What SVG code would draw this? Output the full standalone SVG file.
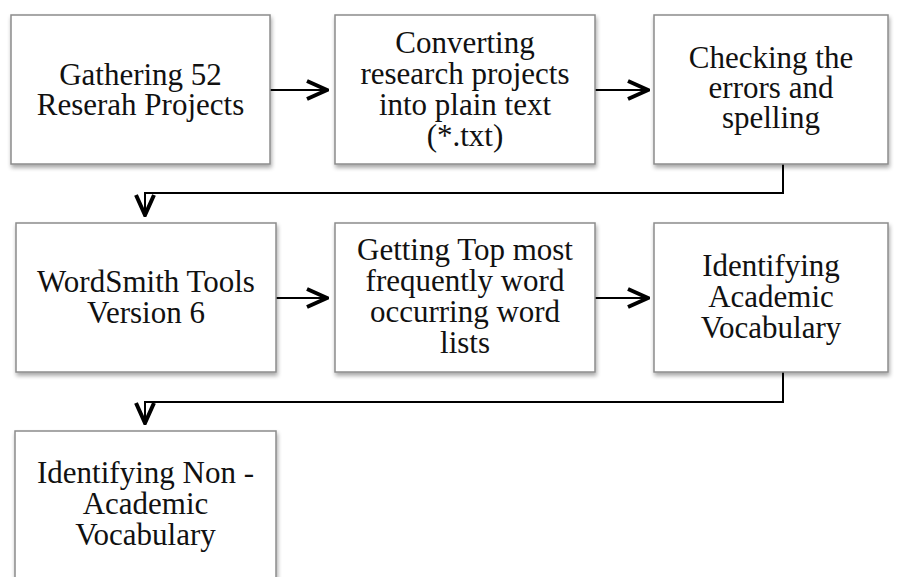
<svg xmlns="http://www.w3.org/2000/svg" width="902" height="577" viewBox="0 0 902 577">
<style>
.box{fill:#fff;stroke:#8c8c8c;stroke-width:1.5;filter:url(#sh)}
.t{font-family:"Liberation Serif","Times New Roman",serif;font-size:31px;fill:#111;text-anchor:middle}
.c{fill:none;stroke:#000;stroke-width:2;marker-end:url(#ah)}
</style>
<defs>
<filter id="sh" x="-10%" y="-10%" width="120%" height="125%">
<feGaussianBlur in="SourceAlpha" stdDeviation="2"/>
<feOffset dx="1" dy="3" result="b"/>
<feComponentTransfer><feFuncA type="linear" slope="0.35"/></feComponentTransfer>
<feMerge><feMergeNode/><feMergeNode in="SourceGraphic"/></feMerge>
</filter>
<marker id="ah" markerUnits="userSpaceOnUse" viewBox="0 0 24 22" refX="22" refY="11" markerWidth="24" markerHeight="22" orient="auto">
<path d="M2,2 L22,11 L2,20" fill="none" stroke="#000" stroke-width="4" stroke-linejoin="miter"/>
</marker>
</defs>
<rect width="902" height="577" fill="#fff"/>
<g id="connectors">
<path class="c" d="M270,90 H327"/>
<path class="c" d="M595,90 H648"/>
<path class="c" d="M783,164 V193 H145 V215"/>
<path class="c" d="M276,298 H327"/>
<path class="c" d="M595,298 H648"/>
<path class="c" d="M783,372 V402 H145 V423"/>
</g>
<g id="n1"><rect class="box" x="11" y="15" width="259" height="149"/>
<text class="t" x="140.5" y="85">Gathering 52<tspan x="140.5" dy="30">Reserah Projects</tspan></text></g>
<g id="n2"><rect class="box" x="335" y="15" width="260" height="149"/>
<text class="t" x="465" y="53">Converting<tspan x="465" dy="31">research projects</tspan><tspan x="465" dy="31">into plain text</tspan><tspan x="465" dy="31">(*.txt)</tspan></text></g>
<g id="n3"><rect class="box" x="654" y="15" width="234" height="149"/>
<text class="t" x="771" y="68">Checking the<tspan x="771" dy="30">errors and</tspan><tspan x="771" dy="30">spelling</tspan></text></g>
<g id="n4"><rect class="box" x="16" y="223" width="260" height="149"/>
<text class="t" x="146" y="292">WordSmith Tools<tspan x="146" dy="31">Version 6</tspan></text></g>
<g id="n5"><rect class="box" x="335" y="223" width="260" height="149"/>
<text class="t" x="465" y="260">Getting Top most<tspan x="465" dy="31">frequently word</tspan><tspan x="465" dy="31">occurring word</tspan><tspan x="465" dy="31">lists</tspan></text></g>
<g id="n6"><rect class="box" x="654" y="223" width="234" height="149"/>
<text class="t" x="771" y="276">Identifying<tspan x="771" dy="31">Academic</tspan><tspan x="771" dy="31">Vocabulary</tspan></text></g>
<g id="n7"><rect class="box" x="15" y="431" width="261" height="160"/>
<text class="t" x="145.5" y="483">Identifying Non -<tspan x="145.5" dy="31">Academic</tspan><tspan x="145.5" dy="31">Vocabulary</tspan></text></g>
</svg>
